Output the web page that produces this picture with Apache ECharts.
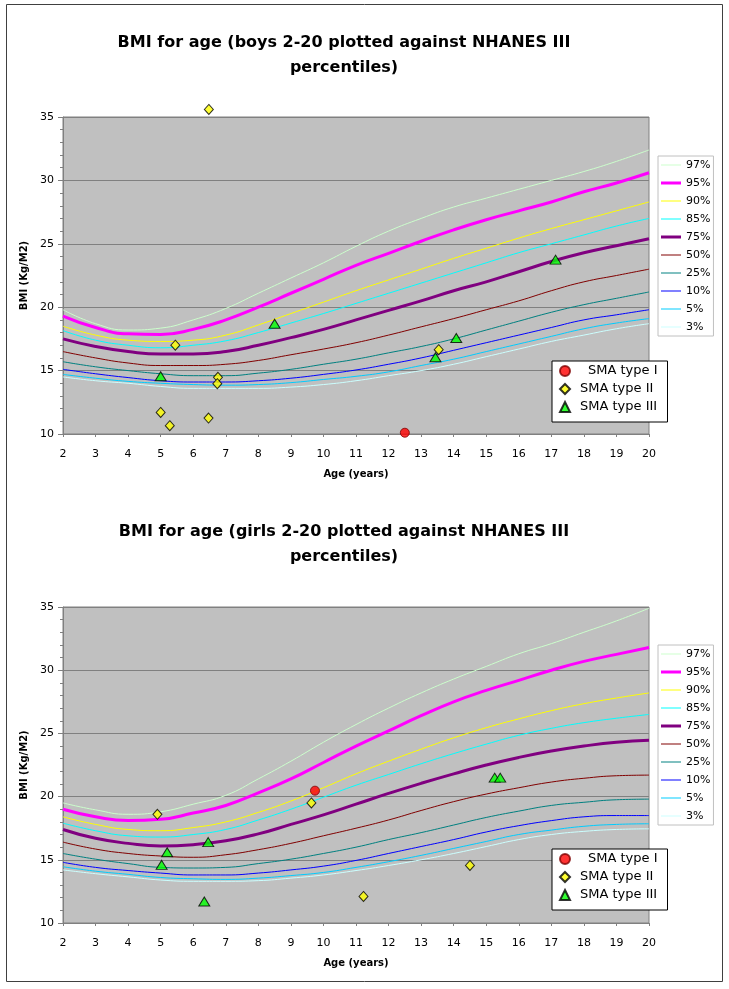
<!DOCTYPE html>
<html><head><meta charset="utf-8">
<script src="https://cdn.jsdelivr.net/npm/echarts@6/dist/echarts.min.js"></script>
<style>html,body{margin:0;padding:0;background:#fff}#c{width:729px;height:989px}</style>
</head><body><div id="c"></div>
<script>
// ---------- data ----------
const ages = [2,3,4,5,6,7,8,9,10,11,12,13,14,15,16,17,18,19,20];
const percentileLabels = ['97%','95%','90%','85%','75%','50%','25%','10%','5%','3%'];
const smaLabels = ['SMA type I','SMA type II','SMA type III'];

// Boys BMI percentiles (ages 2..20)
const boysP97 = [19.8,18.7,18.2,18.35,19.0,19.9,21.1,22.3,23.5,24.8,26.0,27.0,27.9,28.6,29.3,30.0,30.7,31.5,32.4];
const boysP95 = [19.3,18.4,17.9,17.85,18.25,19.0,20.0,21.1,22.2,23.3,24.25,25.2,26.1,26.9,27.6,28.3,29.1,29.8,30.6];
const boysP90 = [18.5,17.8,17.4,17.3,17.4,17.8,18.6,19.5,20.4,21.3,22.15,23.0,23.85,24.65,25.45,26.2,26.9,27.6,28.3];
const boysP85 = [18.15,17.4,17.0,16.8,17.0,17.35,18.0,18.75,19.5,20.3,21.1,21.9,22.7,23.5,24.3,25.0,25.7,26.4,27.0];
const boysP75 = [17.5,16.9,16.5,16.3,16.3,16.5,17.0,17.6,18.25,19.0,19.75,20.5,21.3,22.0,22.8,23.6,24.3,24.85,25.4];
const boysP50 = [16.5,16.0,15.6,15.4,15.4,15.5,15.8,16.25,16.7,17.2,17.8,18.45,19.1,19.8,20.5,21.3,22.0,22.5,23.0];
const boysP25 = [15.7,15.3,15.0,14.75,14.6,14.6,14.8,15.1,15.5,15.9,16.4,16.9,17.5,18.2,18.9,19.6,20.2,20.7,21.2];
const boysP10 = [15.1,14.75,14.45,14.2,14.1,14.1,14.2,14.4,14.7,15.05,15.5,16.0,16.6,17.2,17.8,18.4,19.0,19.4,19.8];
const boysP5  = [14.7,14.4,14.15,14.0,13.9,13.85,13.9,14.05,14.3,14.55,14.9,15.4,15.9,16.5,17.1,17.7,18.3,18.75,19.1];
const boysP3  = [14.5,14.2,14.0,13.75,13.6,13.6,13.6,13.7,13.9,14.2,14.6,15.0,15.5,16.1,16.7,17.3,17.8,18.3,18.7];

// Girls BMI percentiles (ages 2..20)
const girlsP97 = [19.5,18.95,18.6,18.8,19.4,20.1,21.4,22.8,24.3,25.7,27.0,28.2,29.3,30.3,31.3,32.1,33.0,33.9,34.9];
const girlsP95 = [19.0,18.4,18.1,18.2,18.7,19.3,20.3,21.4,22.7,24.0,25.2,26.4,27.5,28.4,29.2,30.0,30.7,31.25,31.8];
const girlsP90 = [18.4,17.8,17.4,17.3,17.55,18.0,18.75,19.65,20.7,21.8,22.8,23.75,24.65,25.45,26.15,26.8,27.35,27.8,28.2];
const girlsP85 = [17.9,17.3,16.9,16.8,17.0,17.4,18.15,19.0,19.95,20.9,21.75,22.6,23.4,24.15,24.85,25.4,25.85,26.2,26.5];
const girlsP75 = [17.4,16.7,16.3,16.1,16.2,16.5,17.05,17.8,18.55,19.4,20.25,21.05,21.8,22.5,23.1,23.6,24.0,24.3,24.45];
const girlsP50 = [16.4,15.85,15.5,15.3,15.2,15.4,15.8,16.3,16.9,17.5,18.15,18.9,19.6,20.2,20.7,21.15,21.45,21.65,21.7];
const girlsP25 = [15.5,15.05,14.7,14.4,14.35,14.4,14.7,15.05,15.5,16.0,16.6,17.15,17.75,18.35,18.85,19.3,19.55,19.75,19.8];
const girlsP10 = [14.8,14.4,14.15,13.95,13.8,13.8,13.95,14.2,14.5,14.95,15.5,16.05,16.6,17.2,17.7,18.1,18.4,18.5,18.5];
const girlsP5  = [14.45,14.1,13.85,13.6,13.5,13.45,13.55,13.75,14.0,14.4,14.85,15.35,15.9,16.45,17.0,17.35,17.65,17.8,17.85];
const girlsP3  = [14.2,13.9,13.65,13.4,13.3,13.3,13.35,13.55,13.8,14.15,14.55,15.0,15.5,16.05,16.6,17.0,17.25,17.4,17.45];

// Patients [age, BMI]
const boysTypeI   = [[12.5,10.1]];
const boysTypeII  = [[6.48,35.6],[5.45,17.0],[6.76,14.47],[6.74,13.97],[5.0,11.7],[5.28,10.66],[6.47,11.26],[13.54,16.65]];
const boysTypeIII = [[5.0,14.55],[8.5,18.7],[17.13,23.75],[14.08,17.57],[13.44,16.05]];
const girlsTypeI   = [[9.74,20.47]];
const girlsTypeII  = [[4.9,18.6],[9.63,19.5],[11.23,12.1],[14.5,14.55]];
const girlsTypeIII = [[5.2,15.6],[5.03,14.6],[6.46,16.4],[6.34,11.7],[15.26,21.5],[15.43,21.5]];

const boysTitle  = 'BMI for age (boys 2-20 plotted against NHANES III\npercentiles)';
const girlsTitle = 'BMI for age (girls 2-20 plotted against NHANES III\npercentiles)';

// ---------- styles ----------
const FONT = 'DejaVu Sans';
const pctStyles = {
  '97%': {color:'#CCFFCC', width:1},
  '95%': {color:'#FF00FF', width:3},
  '90%': {color:'#FFFF00', width:1},
  '85%': {color:'#00FFFF', width:1},
  '75%': {color:'#800080', width:3},
  '50%': {color:'#800000', width:1},
  '25%': {color:'#008080', width:1},
  '10%': {color:'#0000FF', width:1},
  '5%':  {color:'#00CCFF', width:1},
  '3%':  {color:'#CCFFFF', width:1}
};
const smaStyles = {
  'SMA type I':   {symbol:'circle',   size:9,      itemStyle:{color:'#FF0000', borderColor:'#800000', borderWidth:1}},
  'SMA type II':  {symbol:'diamond',  size:[9,10], itemStyle:{color:'#FFFF00', borderColor:'#000000', borderWidth:1}},
  'SMA type III': {symbol:'triangle', size:[11,9], itemStyle:{color:'#00FF00', borderColor:'#000000', borderWidth:1}}
};

const boysCurves  = [boysP97,boysP95,boysP90,boysP85,boysP75,boysP50,boysP25,boysP10,boysP5,boysP3];
const girlsCurves = [girlsP97,girlsP95,girlsP90,girlsP85,girlsP75,girlsP50,girlsP25,girlsP10,girlsP5,girlsP3];
const boysPts  = [boysTypeI, boysTypeII, boysTypeIII];
const girlsPts = [girlsTypeI, girlsTypeII, girlsTypeIII];

function curveSeries(curves, idx) {
  return percentileLabels.map((lab, k) => ({
    type:'line', name:lab, xAxisIndex:idx, yAxisIndex:idx,
    data: ages.map((a, i) => [a, curves[k][i]]),
    smooth:0.5, symbol:'none', showSymbol:false,
    lineStyle:{color:pctStyles[lab].color, width:pctStyles[lab].width},
    itemStyle:{color:pctStyles[lab].color},
    emphasis:{disabled:true}, z:2
  }));
}
function pointSeries(pts, idx) {
  return smaLabels.map((lab, k) => ({
    type:'scatter', name:lab, xAxisIndex:idx, yAxisIndex:idx,
    data: pts[k], symbol:smaStyles[lab].symbol, symbolSize:smaStyles[lab].size,
    itemStyle:smaStyles[lab].itemStyle, clip:false, z:5,
    emphasis:{disabled:true}
  }));
}

function xAxisOf(idx) {
  return {
    gridIndex:idx, type:'value', min:2, max:20, interval:1,
    name:'Age (years)', nameLocation:'middle', nameGap:35,
    nameTextStyle:{fontFamily:FONT, fontWeight:'bold', fontSize:10, color:'#000'},
    axisLine:{show:true, onZero:false, lineStyle:{color:'#808080', width:1}},
    axisTick:{show:true, length:3, lineStyle:{color:'#808080'}},
    axisLabel:{show:true, color:'#000', fontFamily:FONT, fontSize:11, margin:15, hideOverlap:false},
    splitLine:{show:false}
  };
}
function yAxisOf(idx) {
  return {
    gridIndex:idx, type:'value', min:10, max:35, interval:5,
    name:'BMI (Kg/M2)', nameLocation:'middle', nameGap:27, nameRotate:90,
    nameTextStyle:{fontFamily:FONT, fontWeight:'bold', fontSize:10, color:'#000'},
    axisLine:{show:true, onZero:false, lineStyle:{color:'#808080', width:1}},
    axisTick:{show:true, length:5, lineStyle:{color:'#808080'}},
    minorTick:{show:true, splitNumber:5, length:3, lineStyle:{color:'#808080'}},
    axisLabel:{show:true, color:'#000', fontFamily:FONT, fontSize:11, margin:9},
    splitLine:{show:true, lineStyle:{color:'#808080', width:1}}
  };
}
const thinIcon  = 'path://M0,0H20V1H0Z';
const thickIcon = 'path://M0,0H20V3H0Z';
function pctLegend(top) {
  return {
    data:percentileLabels.map(l => ({name:l, icon: pctStyles[l].width > 1 ? thickIcon : thinIcon})),
    orient:'vertical', left:658, top:top,
    itemWidth:20, itemHeight:10, itemGap:0, padding:[0,3,0,3],
    backgroundColor:'#FFFFFF', borderColor:'#C0C0C0', borderWidth:1, borderRadius:0,
    selectedMode:false, itemStyle:{borderWidth:0},
    textStyle:{fontFamily:FONT, fontSize:11, color:'#000', lineHeight:18}
  };
}
const smaIcons = {'SMA type I':'circle', 'SMA type II':'diamond', 'SMA type III':'triangle'};
function smaLegend(top) {
  return {
    data:smaLabels.map(l => ({name:l, icon:smaIcons[l]})),
    orient:'vertical', left:552, top:top,
    itemWidth:10, itemHeight:10, itemGap:0, padding:[1,10,6,7],
    backgroundColor:'#FFFFFF', borderColor:'#000000', borderWidth:1, borderRadius:0,
    selectedMode:false,
    formatter: n => n === 'SMA type I' ? '{a|' + n + '}' : '{b|' + n + '}',
    textStyle:{fontFamily:FONT, fontSize:13, color:'#000', lineHeight:18,
      rich:{
        a:{fontFamily:FONT, fontSize:13, color:'#000', lineHeight:18, padding:[0,0,0,13]},
        b:{fontFamily:FONT, fontSize:13, color:'#000', lineHeight:18, padding:[0,0,0,5]}
      }}
  };
}
function titleOf(text, top) {
  return {
    text:text, left:344, top:top, textAlign:'center', padding:0,
    textStyle:{fontFamily:FONT, fontWeight:'bold', fontSize:16, lineHeight:25, color:'#000'}
  };
}

const option = {
  animation:false,
  backgroundColor:'#FFFFFF',
  title:[titleOf(boysTitle, 30), titleOf(girlsTitle, 519)],
  grid:[
    {left:63, top:117, width:586, height:317, show:true, backgroundColor:'#C0C0C0', borderColor:'#808080', borderWidth:1, containLabel:false},
    {left:63, top:607, width:586, height:316, show:true, backgroundColor:'#C0C0C0', borderColor:'#808080', borderWidth:1, containLabel:false}
  ],
  xAxis:[xAxisOf(0), xAxisOf(1)],
  yAxis:[yAxisOf(0), yAxisOf(1)],
  legend:[pctLegend(156), smaLegend(361), pctLegend(645), smaLegend(849)],
  graphic:[{type:'rect', silent:true, z:-10,
    shape:{x:6.5, y:4.5, width:716, height:977},
    style:{fill:null, stroke:'#404040', lineWidth:1}}],
  series:[].concat(curveSeries(boysCurves,0), pointSeries(boysPts,0),
                   curveSeries(girlsCurves,1), pointSeries(girlsPts,1))
};
const chart = echarts.init(document.getElementById('c'), null, {renderer:'canvas'});
chart.setOption(option);
</script></body></html>
